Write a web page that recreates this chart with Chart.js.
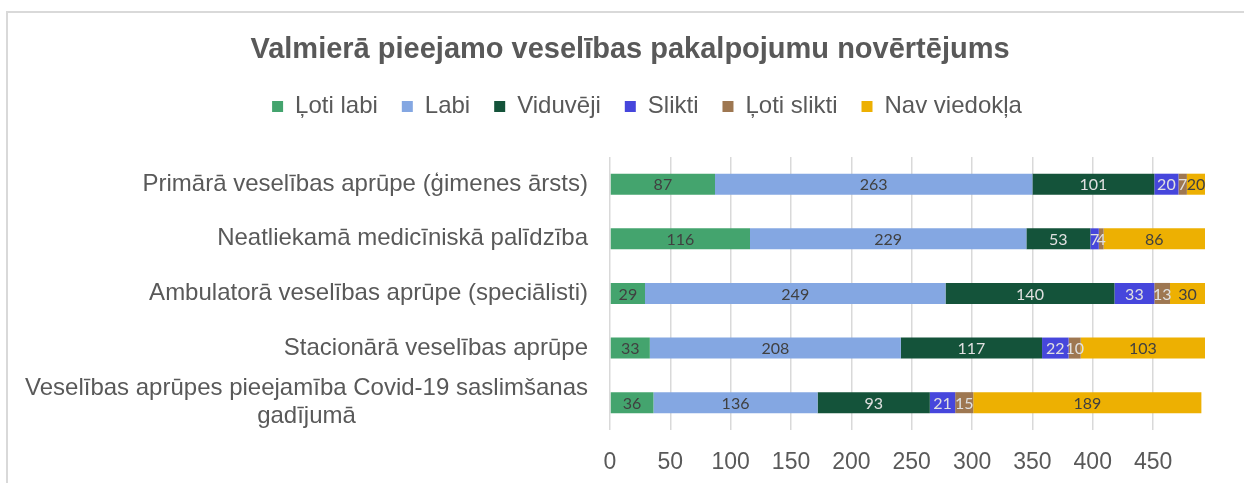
<!DOCTYPE html>
<html>
<head>
<meta charset="utf-8">
<script src="https://cdn.jsdelivr.net/npm/chart.js@4"></script>
<style>
    html, body { margin: 0; padding: 0; background: #fff; overflow: hidden; }
    #wrap { position: relative; width: 1244px; height: 483px; }
    #frame { position: absolute; left: 6px; top: 11px; width: 1300px; height: 600px; border: 2px solid #d9d9d9; pointer-events: none; }
    canvas { position: absolute; left: 0; top: 0; }
</style>
</head>
<body>
<div id="wrap">
    <canvas id="chart" width="1244" height="483"></canvas>
    <div id="frame"></div>
</div>
<script>
// --- DATA ---
const categories = [
    'Primārā veselības aprūpe (ģimenes ārsts)',
    'Neatliekamā medicīniskā palīdzība',
    'Ambulatorā veselības aprūpe (speciālisti)',
    'Stacionārā veselības aprūpe',
    ['Veselības aprūpes pieejamība Covid-19 saslimšanas', 'gadījumā']
];
const seriesNames = ['Ļoti labi', 'Labi', 'Viduvēji', 'Slikti', 'Ļoti slikti', 'Nav viedokļa'];
const lotiLabi    = [87, 116, 29, 33, 36];
const labi        = [263, 229, 249, 208, 136];
const viduveji    = [101, 53, 140, 117, 93];
const slikti      = [20, 7, 33, 22, 21];
const lotiSlikti  = [7, 4, 13, 10, 15];
const navViedokla = [20, 86, 30, 103, 189];
const xTickValues = [0, 50, 100, 150, 200, 250, 300, 350, 400, 450];
const xMax = 493;

const seriesData = [lotiLabi, labi, viduveji, slikti, lotiSlikti, navViedokla];
const seriesColors = ['#44A46E', '#84A7E2', '#14533A', '#4646DC', '#9E7751', '#EDB002'];
const labelColors = ['#404040', '#404040', '#e0e0e0', '#e0e0e0', '#e0e0e0', '#404040'];

const FONT = '"Liberation Sans", Arial, sans-serif';
const TEXT = '#595959';

// Category labels: right aligned block, lines centred inside the block (Excel style)
const categoryLabels = {
    id: 'categoryLabels',
    afterDraw(chart) {
        const ctx = chart.ctx;
        const yScale = chart.scales.y;
        const right = chart.chartArea.left - 22;
        ctx.save();
        ctx.font = '24px ' + FONT;
        ctx.fillStyle = TEXT;
        ctx.textBaseline = 'middle';
        ctx.textAlign = 'center';
        categories.forEach((label, i) => {
            const lines = Array.isArray(label) ? label : [label];
            const blockW = Math.max(...lines.map(l => ctx.measureText(l).width));
            const cy = yScale.getPixelForValue(i);
            lines.forEach((line, j) => {
                ctx.fillText(line, right - blockW / 2, cy + (j - (lines.length - 1) / 2) * 28);
            });
        });
        ctx.restore();
    }
};

// Value labels centred on each (visible part of a) segment
const valueLabels = {
    id: 'valueLabels',
    afterDatasetsDraw(chart) {
        const ctx = chart.ctx;
        const area = chart.chartArea;
        ctx.save();
        ctx.font = '16px Lato, sans-serif';
        ctx.textAlign = 'center';
        ctx.textBaseline = 'middle';
        chart.data.datasets.forEach((ds, di) => {
            const meta = chart.getDatasetMeta(di);
            ctx.fillStyle = labelColors[di];
            meta.data.forEach((bar, i) => {
                const x1 = Math.min(bar.base, area.right);
                const x2 = Math.min(bar.x, area.right);
                ctx.fillText(String(ds.data[i]), (x1 + x2) / 2, bar.y + 1);
            });
        });
        ctx.restore();
    }
};

// Legend sits a little right of the title in the original
const legendShift = {
    id: 'legendShift',
    afterLayout(chart) {
        chart.legend.left += 17;
        chart.legend.right += 17;
    }
};

new Chart(document.getElementById('chart'), {
    type: 'bar',
    data: {
        labels: categories,
        datasets: seriesNames.map((name, i) => ({
            label: name,
            data: seriesData[i],
            backgroundColor: seriesColors[i],
            borderWidth: 0,
            barPercentage: 0.385,
            categoryPercentage: 1
        }))
    },
    options: {
        indexAxis: 'y',
        responsive: false,
        animation: false,
        layout: { padding: { left: 55, right: 39, top: 0, bottom: 9 } },
        plugins: {
            title: {
                display: true,
                text: 'Valmierā pieejamo veselības pakalpojumu novērtējums',
                color: TEXT,
                font: { family: FONT, size: 29, weight: 'bold', lineHeight: 1.2 },
                padding: { top: 33, bottom: 2.6 }
            },
            subtitle: {
                display: true,
                text: ' ',
                weight: 100,
                font: { size: 10, lineHeight: 1 },
                padding: { top: 18.5, bottom: 0 }
            },
            legend: {
                display: true,
                position: 'top',
                labels: {
                    color: TEXT,
                    font: { family: FONT, size: 24 },
                    boxWidth: 11,
                    boxHeight: 11,
                    padding: 24
                }
            },
            tooltip: { enabled: false }
        },
        scales: {
            x: {
                stacked: true,
                min: 0,
                max: xMax,
                afterBuildTicks: (scale) => {
                    scale.ticks = xTickValues.map(v => ({ value: v }));
                },
                afterFit: (scale) => { scale.height = 44; },
                grid: { color: '#d9d9d9', lineWidth: 1.5, drawTicks: false },
                border: { display: false },
                ticks: {
                    color: TEXT,
                    font: { family: FONT, size: 23, lineHeight: 1.2 },
                    padding: 19,
                    maxRotation: 0
                }
            },
            y: {
                stacked: true,
                grid: { display: false },
                border: { display: false },
                ticks: { display: false },
                afterFit: (scale) => { scale.width = 555; }
            }
        }
    },
    plugins: [categoryLabels, valueLabels, legendShift]
});
</script>
</body>
</html>
